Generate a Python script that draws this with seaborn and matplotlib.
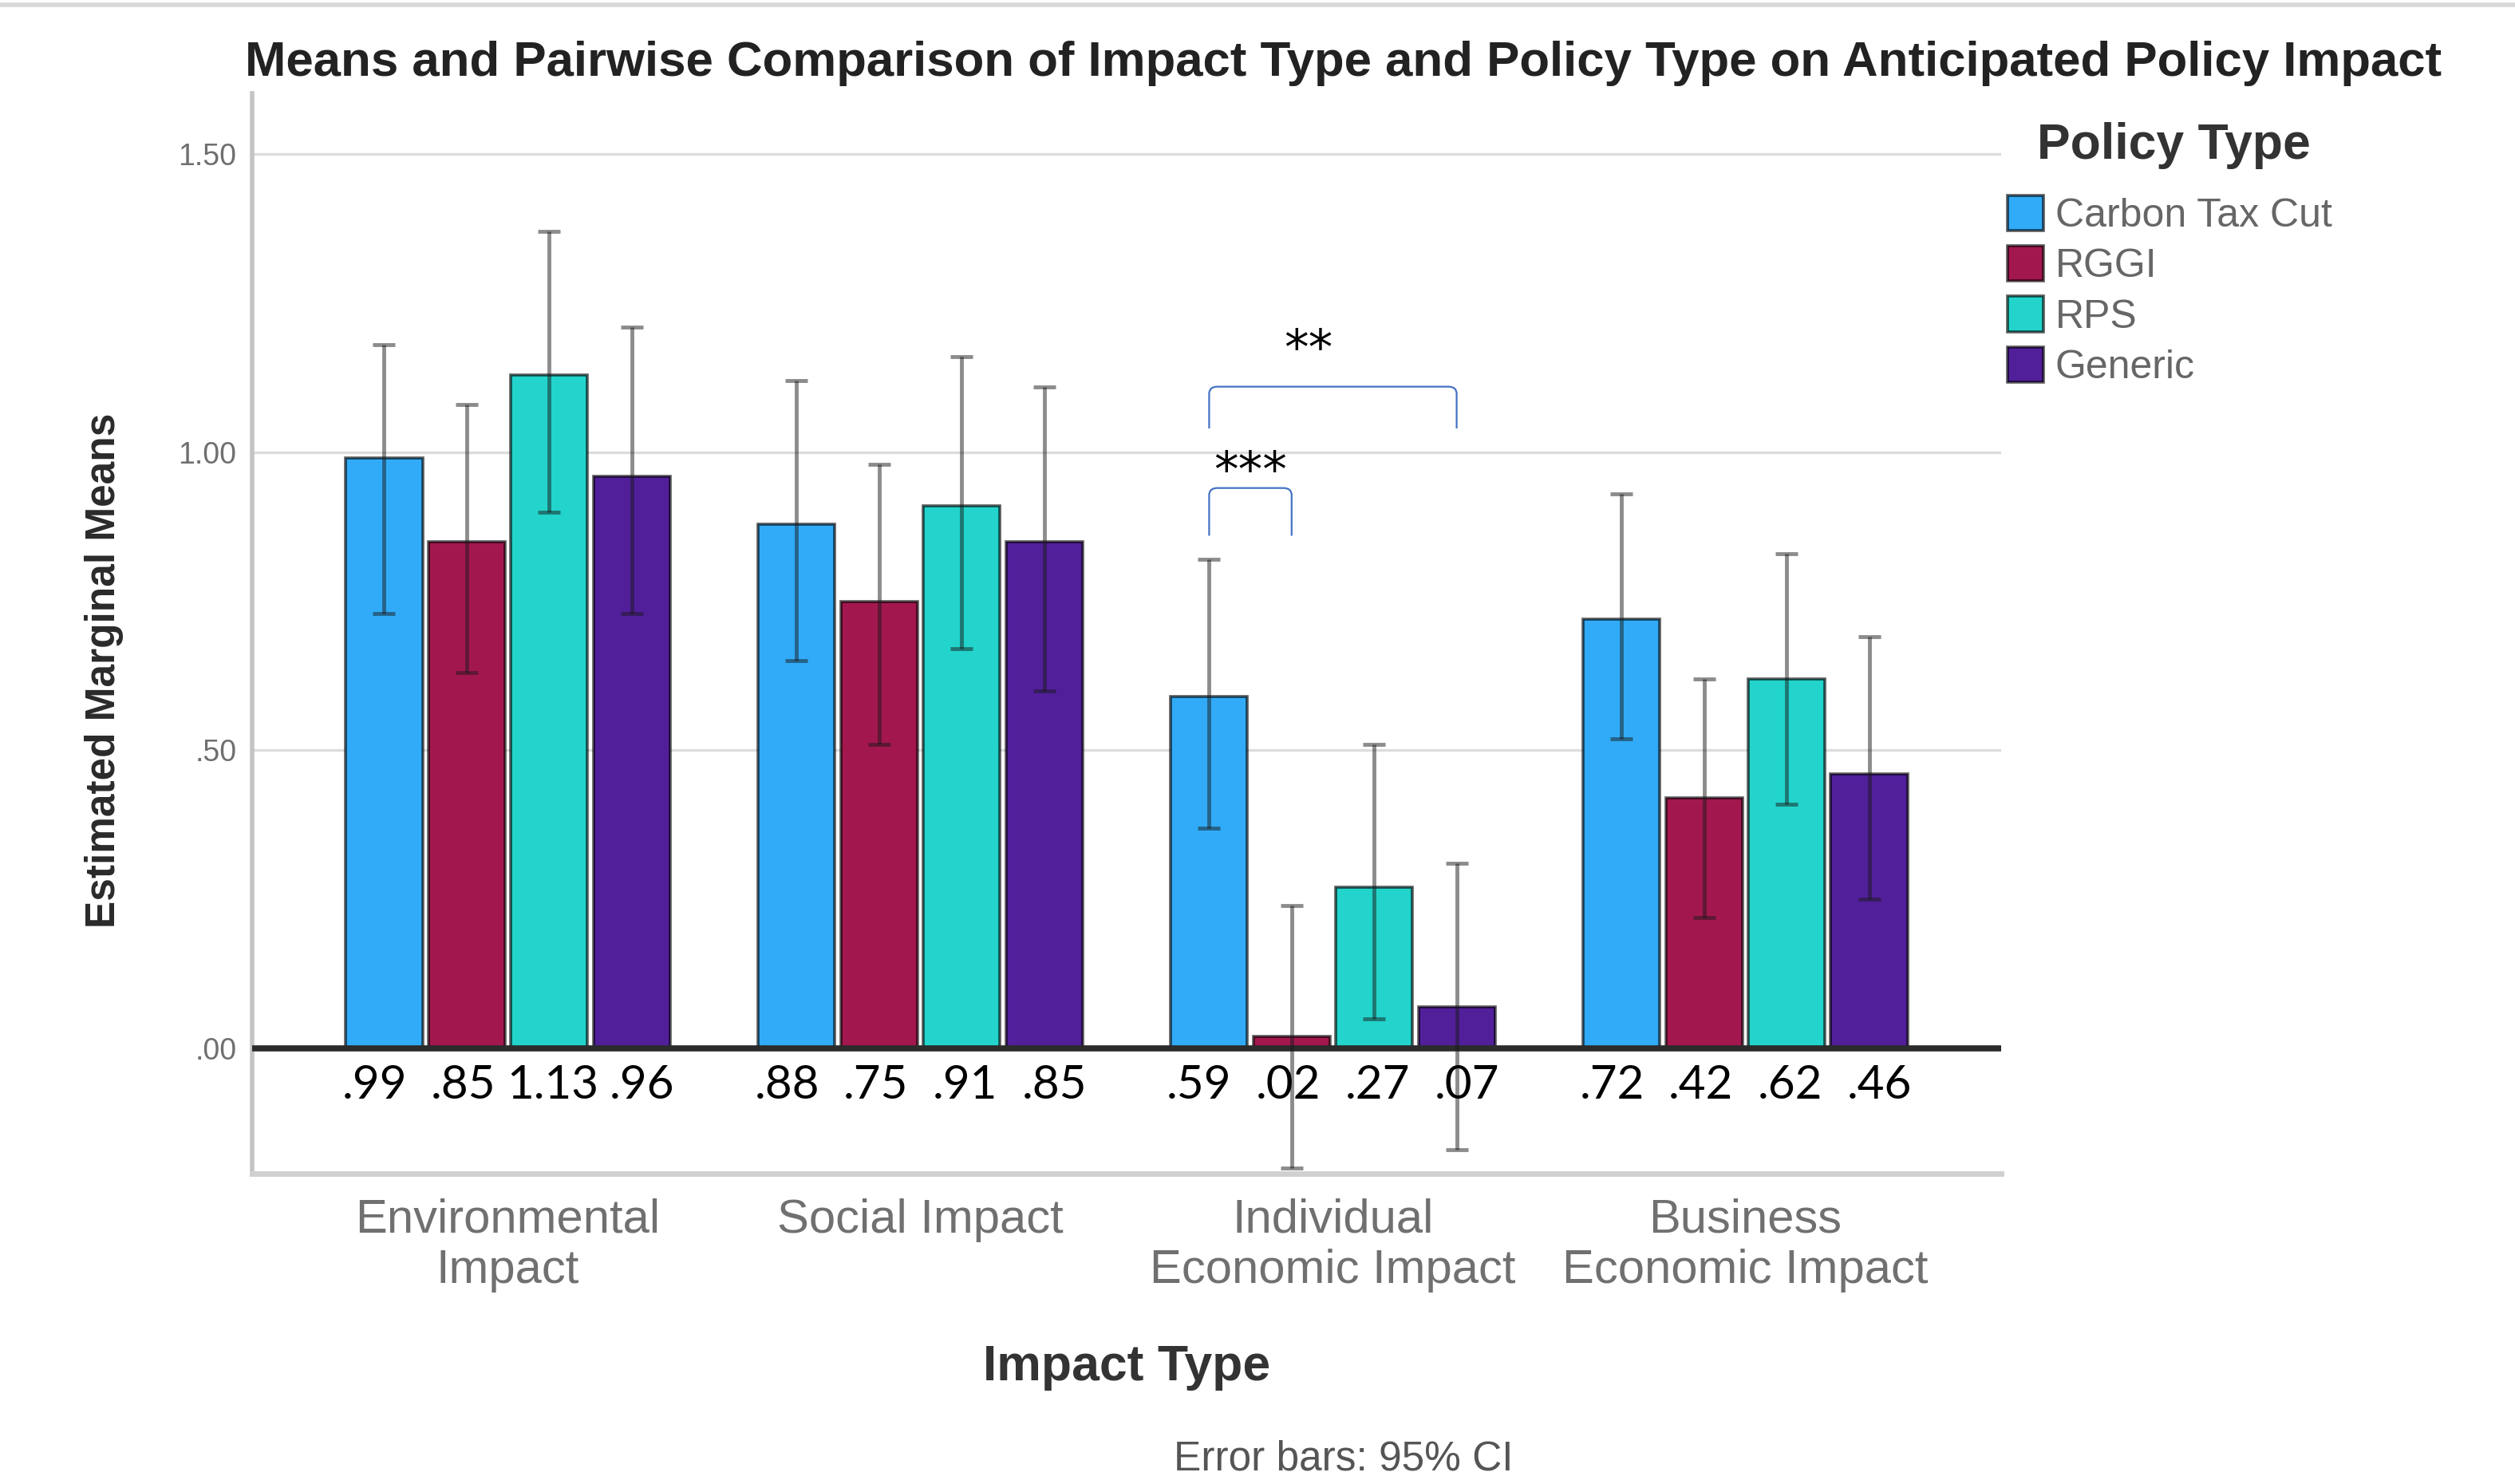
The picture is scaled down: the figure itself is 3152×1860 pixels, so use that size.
import numpy as np
import pandas as pd
import seaborn as sns
import matplotlib.pyplot as plt
from matplotlib.path import Path
from matplotlib.patches import PathPatch

# ---- data -------------------------------------------------------------
impact_types = ["Environmental\nImpact", "Social Impact",
                "Individual\nEconomic Impact", "Business\nEconomic Impact"]
policy_types = ["Carbon Tax Cut", "RGGI", "RPS", "Generic"]

carbon_tax_means = [0.99, 0.88, 0.59, 0.72]
rggi_means = [0.85, 0.75, 0.02, 0.42]
rps_means = [1.13, 0.91, 0.27, 0.62]
generic_means = [0.96, 0.85, 0.07, 0.46]

# 95% confidence limits
carbon_tax_ci_low = [0.73, 0.65, 0.37, 0.52]
carbon_tax_ci_high = [1.18, 1.12, 0.82, 0.93]
rggi_ci_low = [0.63, 0.51, -0.20, 0.22]
rggi_ci_high = [1.08, 0.98, 0.24, 0.62]
rps_ci_low = [0.90, 0.67, 0.05, 0.41]
rps_ci_high = [1.37, 1.16, 0.51, 0.83]
generic_ci_low = [0.73, 0.60, -0.17, 0.25]
generic_ci_high = [1.21, 1.11, 0.31, 0.69]

y_ticks = [0.0, 0.5, 1.0, 1.5]
y_tick_labels = [".00", ".50", "1.00", "1.50"]

# pairwise comparisons within Individual Economic Impact
comparisons = [("Carbon Tax Cut", "Generic", "**", 1.11, 1.04, 1.17),
               ("Carbon Tax Cut", "RGGI", "***", 0.94, 0.86, 0.965)]

palette = ["#31ABF7", "#A3174F", "#22D4CB", "#521F9B"]

means = [carbon_tax_means, rggi_means, rps_means, generic_means]
ci_low = [carbon_tax_ci_low, rggi_ci_low, rps_ci_low, generic_ci_low]
ci_high = [carbon_tax_ci_high, rggi_ci_high, rps_ci_high, generic_ci_high]

df = pd.DataFrame({
    "Impact Type": np.tile(impact_types, len(policy_types)),
    "Policy Type": np.repeat(policy_types, len(impact_types)),
    "Mean": np.concatenate(means),
})

# ---- figure ------------------------------------------------------------
sns.set_theme(style="white")
plt.rcParams["font.family"] = ["Liberation Sans", "DejaVu Sans"]

W, H = 3152, 1860
fig = plt.figure(figsize=(W / 100, H / 100), dpi=100)
ax = fig.add_axes([316 / W, 1 - 1471 / H, (2508 - 316) / W, (1471 - 117) / H])

sns.barplot(data=df, x="Impact Type", y="Mean", hue="Policy Type",
            order=impact_types, hue_order=policy_types, palette=palette,
            errorbar=None, width=0.8, gap=0.07, saturation=1,
            edgecolor=(0, 0, 0, 0.65), linewidth=2.6, ax=ax, zorder=3)
ax.get_legend().remove()
bar_containers = list(ax.containers)

ax.set_xlim(-0.62, 3.62)
ax.set_ylim(-0.21, 1.602)

# grid and reference line
for yv in y_ticks[1:]:
    ax.axhline(yv, color="#dcdcdc", lw=2.4, zorder=1)
ax.axhline(0, color="#2b2b2b", lw=5.5, zorder=4)

for s in ["top", "right"]:
    ax.spines[s].set_visible(False)
ax.spines["left"].set_color("#c4c4c4")
ax.spines["left"].set_linewidth(4)
ax.spines["bottom"].set_color("#d0d0d0")
ax.spines["bottom"].set_linewidth(5)

ax.set_yticks(y_ticks)
ax.set_yticklabels(y_tick_labels)
ax.tick_params(axis="y", length=0, pad=14, labelsize=27, labelcolor="#6f6f6f")
ax.tick_params(axis="x", length=0, pad=22, labelsize=43, labelcolor="#707070")
for lbl in ax.get_xticklabels():
    lbl.set_linespacing(1.2)

ax.set_xlabel("")
ax.set_ylabel("")

# error bars and value labels (labels fan out slightly from the group centre)
bar_x = {}
n_pol = len(policy_types)
for k, (pol, cont, m, lo, hi) in enumerate(zip(policy_types, bar_containers,
                                               means, ci_low, ci_high)):
    xs = [b.get_x() + b.get_width() / 2 for b in cont]
    bar_x[pol] = xs
    m = np.array(m)
    yerr = np.vstack([m - np.array(lo), np.array(hi) - m])
    ax.errorbar(xs, m, yerr=yerr, fmt="none", ecolor=(0.1, 0.1, 0.1, 0.5),
                elinewidth=3.5, capsize=10, capthick=3.5, zorder=5)
    spread = (k - (n_pol - 1) / 2) * 0.016
    for x, v in zip(xs, m):
        txt = f"{v:.2f}"
        if txt.startswith("0"):
            txt = txt[1:]
        ax.text(x + spread, -0.062, txt, ha="center", va="center", fontsize=42,
                family=["Lato", "DejaVu Sans"], color="black", zorder=6)

# significance brackets
grp = impact_types.index("Individual\nEconomic Impact")
for i, (p1, p2, stars, y_top, y_bot, y_txt) in enumerate(comparisons):
    x0, x1 = bar_x[p1][grp], bar_x[p2][grp]
    dx = 0.02
    dy = 0.012
    verts = [(x0, y_bot), (x0, y_top - dy), (x0, y_top), (x0 + dx, y_top),
             (x1 - dx, y_top),
             (x1, y_top), (x1, y_top - dy), (x1, y_bot)]
    codes = [Path.MOVETO, Path.LINETO, Path.CURVE3, Path.CURVE3,
             Path.LINETO, Path.CURVE3, Path.CURVE3, Path.LINETO]
    ax.add_patch(PathPatch(Path(verts, codes), fill=False, edgecolor="#4472C4",
                           lw=1.6, zorder=6, clip_on=False))
    shift = -0.06 if i == 0 else 0.0
    ax.text((x0 + x1) / 2 + shift, y_txt, stars, ha="center", va="center",
            fontsize=44, color="black", family=["DejaVu Sans"], zorder=6)

# legend
handles = [cont.patches[0] for cont in bar_containers]
fig.legend(handles, policy_types, loc="upper left",
           bbox_to_anchor=(2516 / W, 1 - 245 / H), frameon=False,
           fontsize=36, labelcolor="#666666", handlelength=0.9,
           handleheight=0.98, handletextpad=0.3, labelspacing=0.28,
           borderpad=0, borderaxespad=0)
fig.text(2553 / W, 1 - 183 / H, "Policy Type", ha="left", va="center",
         fontsize=45, fontweight="bold", color="#333333")

# titles and notes
fig.text(1684 / W, 1 - 80 / H,
         "Means and Pairwise Comparison of Impact Type and Policy Type on Anticipated Policy Impact",
         ha="center", va="center", fontsize=44.5, fontweight="bold", color="#222222")
fig.text(131 / W, 1 - 840 / H, "Estimated Marginal Means", rotation=90,
         ha="center", va="center", fontsize=37, fontweight="bold", color="#2a2a2a")
fig.text(1412 / W, 1 - 1713 / H, "Impact Type", ha="center", va="center",
         fontsize=45, fontweight="bold", color="#333333")
fig.text(1684 / W, 1 - 1829 / H, "Error bars: 95% CI", ha="center", va="center",
         fontsize=37, color="#555555")

# thin frame line along the top edge
fig.add_artist(plt.Line2D([0, 1], [0.997, 0.997], transform=fig.transFigure,
                          color="#d8d8d8", lw=4))

fig.savefig("out.png", dpi=100)
